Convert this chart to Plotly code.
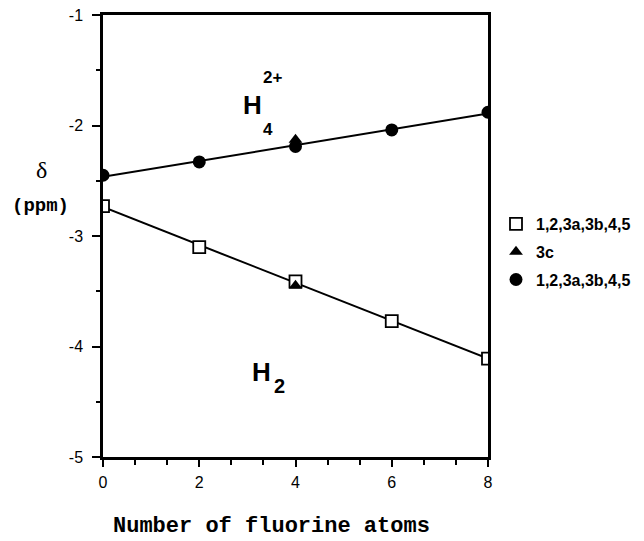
import numpy as np
import plotly.graph_objects as go

# ---- data ----
n_fluorine = [0, 2, 4, 6, 8]
h4_shift = [-2.45, -2.33, -2.19, -2.04, -1.88]   # filled circles (H4 2+)
h2_shift = [-2.73, -3.10, -3.41, -3.77, -4.11]   # open squares (H2)
c3_x = [4, 4]
c3_shift = [-2.13, -3.45]                          # triangles (3c)
legend_names = ["1,2,3a,3b,4,5", "3c", "1,2,3a,3b,4,5"]
x_ticks = [0, 2, 4, 6, 8]
y_ticks = [-5, -4, -3, -2, -1]

# plot area in pixels
W, H = 644, 541
L, R, T, B = 103, 156, 15, 84
PW, PH = W - L - R, H - T - B


def px(xp):
    return (xp - L) / PW


def py(yp):
    return (H - B - yp) / PH


fig = go.Figure()

xs = np.array([0, 8], dtype=float)
for ys in (h4_shift, h2_shift):
    k, b0 = np.polyfit(n_fluorine, ys, 1)
    fig.add_trace(go.Scatter(x=xs, y=k * xs + b0, mode="lines",
                             line=dict(color="black", width=2),
                             showlegend=False, hoverinfo="skip"))

fig.add_trace(go.Scatter(x=n_fluorine, y=h2_shift, mode="markers", name=legend_names[0],
                         marker=dict(symbol="square", size=12, color="white",
                                     line=dict(color="black", width=1.8)),
                         legendgroup="a"))
fig.add_trace(go.Scatter(x=c3_x, y=c3_shift, mode="markers", name=legend_names[1],
                         marker=dict(symbol="triangle-up", size=12, color="black",
                                     line=dict(width=0)),
                         legendgroup="b"))
fig.add_trace(go.Scatter(x=n_fluorine, y=h4_shift, mode="markers", name=legend_names[2],
                         marker=dict(symbol="circle", size=13, color="black",
                                     line=dict(width=0)),
                         legendgroup="c"))

bold_sans = "Liberation Sans"
ann = []
# H4 2+
ann.append(dict(x=3.10, y=-1.815, text="<b>H</b>", font=dict(family=bold_sans, size=26)))
ann.append(dict(x=3.43, y=-2.04, text="<b>4</b>", font=dict(family=bold_sans, size=17)))
ann.append(dict(x=3.53, y=-1.57, text="<b>2+</b>", font=dict(family=bold_sans, size=17)))
# H2
ann.append(dict(x=3.30, y=-4.23, text="<b>H</b>", font=dict(family=bold_sans, size=26)))
ann.append(dict(x=3.66, y=-4.36, text="<b>2</b>", font=dict(family=bold_sans, size=20)))
for a in ann:
    a.update(xref="x", yref="y", showarrow=False, font_color="black")

ann.append(dict(x=px(41.5), y=py(170), xref="paper", yref="paper", showarrow=False,
                text="δ", font=dict(family="Liberation Serif", size=24, color="black")))
ann.append(dict(x=px(40), y=py(206), xref="paper", yref="paper", showarrow=False,
                text="<b>(ppm)</b>", font=dict(family="Liberation Mono", size=19, color="black")))
ann.append(dict(x=px(271), y=py(526), xref="paper", yref="paper", showarrow=False,
                text="<b>Number of fluorine atoms</b>",
                font=dict(family="Liberation Mono", size=22, color="black")))
for a in ann:
    a.update(xanchor="center", yanchor="middle")

fig.update_layout(
    width=W, height=H,
    margin=dict(l=L, r=R, t=T, b=B, pad=0, autoexpand=False),
    paper_bgcolor="white", plot_bgcolor="white",
    annotations=ann,
    showlegend=True,
    legend=dict(x=px(496), y=py(207), xanchor="left", yanchor="top",
                font=dict(family=bold_sans, size=16, color="black", weight="bold"),
                bgcolor="rgba(0,0,0,0)", tracegroupgap=4, traceorder="grouped"),
    font=dict(family="Liberation Sans", color="black"),
)

fig.update_xaxes(range=[0, 8], tickvals=x_ticks, ticktext=[str(v) for v in x_ticks],
                 showgrid=False, zeroline=False, showline=True, linecolor="black",
                 linewidth=2.5, mirror=True, ticks="outside", ticklen=7, tickwidth=2,
                 tickcolor="black", ticklabelstandoff=2,
                 tickfont=dict(size=16, color="black", family="Liberation Sans"),
                 minor=dict(dtick=2 / 3, tick0=0, ticks="outside", ticklen=5,
                            tickwidth=1.5, tickcolor="black"))
fig.update_yaxes(range=[-5, -1], tickvals=y_ticks, ticktext=[str(v) for v in y_ticks],
                 showgrid=False, zeroline=False, showline=True, linecolor="black",
                 linewidth=2.5, mirror=True, ticks="outside", ticklen=8, tickwidth=2,
                 tickcolor="black", ticklabelstandoff=6,
                 tickfont=dict(size=16, color="black", family="Liberation Sans"),
                 minor=dict(dtick=0.5, tick0=-5, ticks="outside", ticklen=4,
                            tickwidth=1.5, tickcolor="black"))

fig.write_html("out.html", config={"displayModeBar": False},
               post_script="document.body.style.margin='0px';document.body.style.overflow='hidden';")
